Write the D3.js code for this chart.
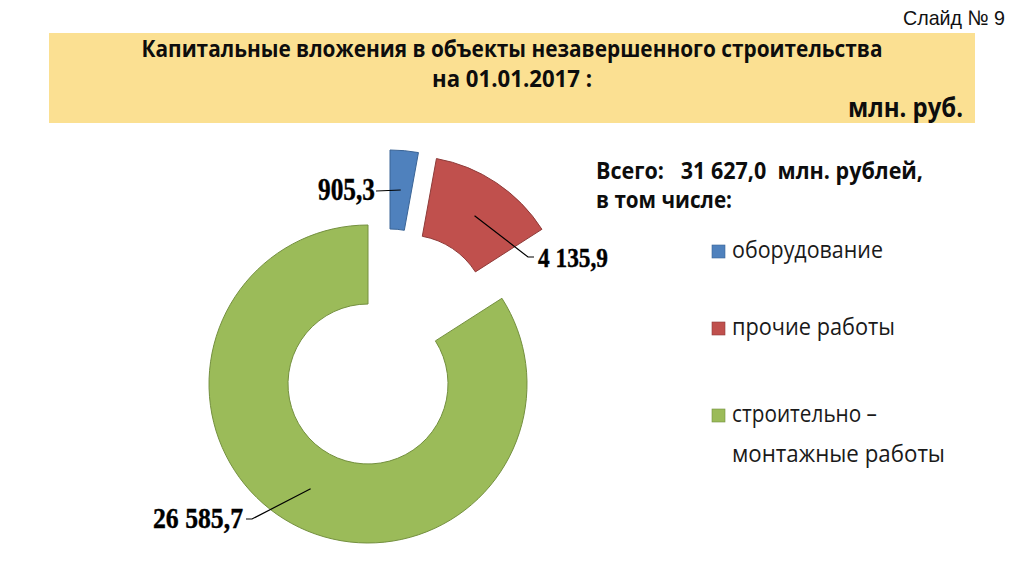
<!DOCTYPE html>
<html>
<head>
<meta charset="utf-8">
<script src="https://cdn.jsdelivr.net/npm/d3@7"></script>
<style>
  html, body { margin: 0; padding: 0; background: #ffffff; }
  svg { display: block; }
  text { white-space: pre; }
</style>
</head>
<body>
<svg id="chart" width="1024" height="574"></svg>
<script>
// ---- data ----
const categories = ["оборудование", "прочие работы", "строительно – монтажные работы"];
const values = [905.3, 4135.9, 26585.7];
const valueLabels = ["905,3", "4 135,9", "26 585,7"];
const legendLines = [["оборудование"], ["прочие работы"], ["строительно –", "монтажные работы"]];
const titleLines = ["Капитальные вложения в объекты незавершенного строительства", "на 01.01.2017 :"];
const unitLabel = "млн. руб.";
const totalLines = ["Всего:   31 627,0  млн. рублей,", "в том числе:"];
const slideLabel = "Слайд № 9";

// ---- style / layout ----
const fills = ["#4F81BD", "#C0504D", "#9BBB59"];
const strokes = ["#3A6496", "#8E3B39", "#74903F"];
const center = { x: 368, y: 384 };
const outerR = 159, innerR = 80;
const explode = [{ dx: 22, dy: -75 }, { dx: 40, dy: -69 }, { dx: 0, dy: 0 }];
const labelCfg = [
  { x: 375, y: 200, anchor: "end", size: 31, len: 57, path: [[376, 191]] },
  { x: 538, y: 267, anchor: "start", size: 27, len: 70, path: [[528, 257], [534, 257]] },
  { x: 243, y: 528, anchor: "end", size: 30, len: 90, path: [[252, 519], [246, 519]] }
];

const svg = d3.select("#chart");

// title band
svg.append("rect").attr("x", 49).attr("y", 33).attr("width", 926).attr("height", 90).attr("fill", "#FBE092");

svg.append("text").attr("x", 1005).attr("y", 25).attr("text-anchor", "end")
  .attr("font-family", "Liberation Sans, Arial, sans-serif").attr("font-size", 21)
  .attr("textLength", 102).attr("lengthAdjust", "spacingAndGlyphs")
  .attr("fill", "#111").text(slideLabel);

const titleY = [57, 87];
const titleLen = [741, 160];
titleLines.forEach((t, i) => {
  svg.append("text").attr("x", 512).attr("y", titleY[i]).attr("text-anchor", "middle")
    .attr("font-family", "Open Sans, sans-serif").attr("font-weight", "bold").attr("font-size", 23.5)
    .attr("textLength", titleLen[i]).attr("lengthAdjust", "spacingAndGlyphs")
    .attr("fill", "#0d0d0d").text(t);
});
svg.append("text").attr("x", 963).attr("y", 117).attr("text-anchor", "end")
  .attr("font-family", "Open Sans, sans-serif").attr("font-weight", "bold").attr("font-size", 27)
  .attr("textLength", 115).attr("lengthAdjust", "spacingAndGlyphs")
  .attr("fill", "#0d0d0d").text(unitLabel);

// donut
const pie = d3.pie().sort(null).value(d => d).startAngle(0).endAngle(2 * Math.PI);
const arcs = pie(values);
const arc = d3.arc().innerRadius(innerR).outerRadius(outerR);
const g = svg.append("g").attr("transform", `translate(${center.x},${center.y})`);

g.selectAll("path.slice").data(arcs).join("path")
  .attr("class", "slice")
  .attr("transform", (d, i) => `translate(${explode[i].dx},${explode[i].dy})`)
  .attr("d", arc)
  .attr("fill", (d, i) => fills[i])
  .attr("stroke", (d, i) => strokes[i])
  .attr("stroke-width", 1);

// leader lines + labels
arcs.forEach((d, i) => {
  const c = arc.centroid(d);
  const sx = center.x + explode[i].dx + c[0];
  const sy = center.y + explode[i].dy + c[1];
  const pts = [[sx, sy]].concat(labelCfg[i].path);
  svg.append("path").attr("d", d3.line()(pts)).attr("fill", "none")
    .attr("stroke", "#000").attr("stroke-width", 1.2);
  svg.append("text").attr("x", labelCfg[i].x).attr("y", labelCfg[i].y)
    .attr("text-anchor", labelCfg[i].anchor)
    .attr("font-family", "Liberation Serif, Times New Roman, serif").attr("font-weight", "bold")
    .attr("font-size", labelCfg[i].size)
    .attr("textLength", labelCfg[i].len).attr("lengthAdjust", "spacingAndGlyphs")
    .attr("stroke", "#000").attr("stroke-width", 0.4)
    .attr("fill", "#000").text(valueLabels[i]);
});

// total text
const totY = [179, 208];
const totLen = [327, 136];
totalLines.forEach((t, i) => {
  svg.append("text").attr("x", 596).attr("y", totY[i])
    .attr("font-family", "Open Sans, sans-serif").attr("font-weight", "bold").attr("font-size", 22.5)
    .attr("textLength", totLen[i]).attr("lengthAdjust", "spacingAndGlyphs")
    .attr("fill", "#0d0d0d").text(t);
});

// legend
const legY = [258, 335, 422];
const legLen = [[151], [163], [145, 213]];
categories.forEach((c, i) => {
  svg.append("rect").attr("x", 712).attr("y", legY[i] - 13).attr("width", 13).attr("height", 13)
    .attr("fill", fills[i]).attr("stroke", strokes[i]).attr("stroke-width", 0.6);
  legendLines[i].forEach((ln, j) => {
    svg.append("text").attr("x", 732).attr("y", legY[i] + j * 39.5)
      .attr("font-family", "Open Sans, sans-serif").attr("font-size", 23.5)
      .attr("textLength", legLen[i][j]).attr("lengthAdjust", "spacingAndGlyphs")
      .attr("fill", "#1a1a1a").text(ln);
  });
});
</script>
</body>
</html>
